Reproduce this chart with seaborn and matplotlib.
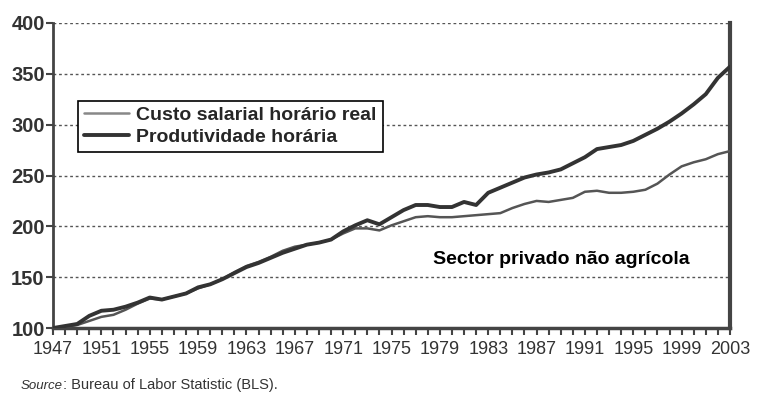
import matplotlib
matplotlib.use('Agg')
import matplotlib.pyplot as plt
from matplotlib.ticker import MultipleLocator
import seaborn as sns
import pandas as pd

sns.set_style('white')
plt.rcParams['font.family'] = ['Liberation Sans', 'DejaVu Sans']

years = list(range(1947, 2004))
produtividade = [100, 102, 104, 112, 117, 118, 121, 125, 130, 128,
                 131, 134, 140, 143, 148, 154, 160, 164, 169, 174,
                 178, 182, 184, 187, 195, 201, 206, 202, 209, 216,
                 221, 221, 219, 219, 224, 221, 233, 238, 243, 248,
                 251, 253, 256, 262, 268, 276, 278, 280, 284, 290,
                 296, 303, 311, 320, 330, 346, 357]
custo = [100, 101, 103, 107, 111, 113, 118, 124, 129, 128,
         131, 134, 139, 143, 148, 155, 161, 165, 170, 176,
         180, 182, 184, 187, 193, 198, 198, 196, 201, 205,
         209, 210, 209, 209, 210, 211, 212, 213, 218, 222,
         225, 224, 226, 228, 234, 235, 233, 233, 234, 236,
         242, 251, 259, 263, 266, 271, 274]
label_custo = 'Custo salarial horário real'
label_prod = 'Produtividade horária'
xticks = list(range(1947, 2004, 4))
yticks = [100, 150, 200, 250, 300, 350, 400]

df = pd.DataFrame({'ano': years, label_custo: custo, label_prod: produtividade})

fig = plt.figure(figsize=(7.58, 4.03), dpi=100)
ax = fig.add_axes([0.070, 0.186, 0.893, 0.757])

for y in yticks[1:]:
    ax.axhline(y, color='#555555', lw=1.0, ls=(0, (2, 2)), zorder=1)

sns.lineplot(data=df, x='ano', y=label_custo, ax=ax, color='#555555', lw=1.8,
             label=label_custo, zorder=3)
sns.lineplot(data=df, x='ano', y=label_prod, ax=ax, color='#333333', lw=2.8,
             label=label_prod, zorder=4)

ax.set_xlim(1947, 2003)
ax.set_ylim(100, 400)
ax.set_xticks(xticks)
ax.xaxis.set_minor_locator(MultipleLocator(1))
ax.set_yticks(yticks)
ax.set_xlabel('')
ax.set_ylabel('')
ax.tick_params(axis='both', which='both', direction='out', length=5, width=1.5,
               color='#444444', bottom=True, left=True)
ax.tick_params(axis='x', labelsize=13, labelcolor='#333333', pad=4)
ax.tick_params(axis='y', labelsize=14.5, labelcolor='#333333', pad=1)
for lab in ax.get_yticklabels():
    lab.set_fontweight('bold')

ax.spines['top'].set_visible(False)
ax.spines['left'].set_linewidth(2)
ax.spines['bottom'].set_linewidth(2.5)
ax.spines['right'].set_linewidth(3)
for s in ('left', 'bottom', 'right'):
    ax.spines[s].set_color('#444444')

leg = ax.legend(loc='upper left', bbox_to_anchor=(0.037, 0.745), frameon=True,
                fancybox=False, edgecolor='black', framealpha=1,
                prop={'weight': 'bold', 'size': 14}, handlelength=2.3,
                borderpad=0.3, labelspacing=0.22, handletextpad=0.4,
                borderaxespad=0)
leg.get_frame().set_linewidth(1.2)
leg.get_lines()[0].set_color('#888888')

ax.text(1978.4, 167, 'Sector privado não agrícola', fontsize=14,
        fontweight='bold', color='black', ha='left', va='center')

fig.text(0.027, 0.035, 'Source', fontsize=9.5, style='italic', color='#333333')
fig.text(0.083, 0.035, ': Bureau of Labor Statistic (BLS).', fontsize=10.5,
         color='#333333')

fig.savefig('out.png', dpi=100)
